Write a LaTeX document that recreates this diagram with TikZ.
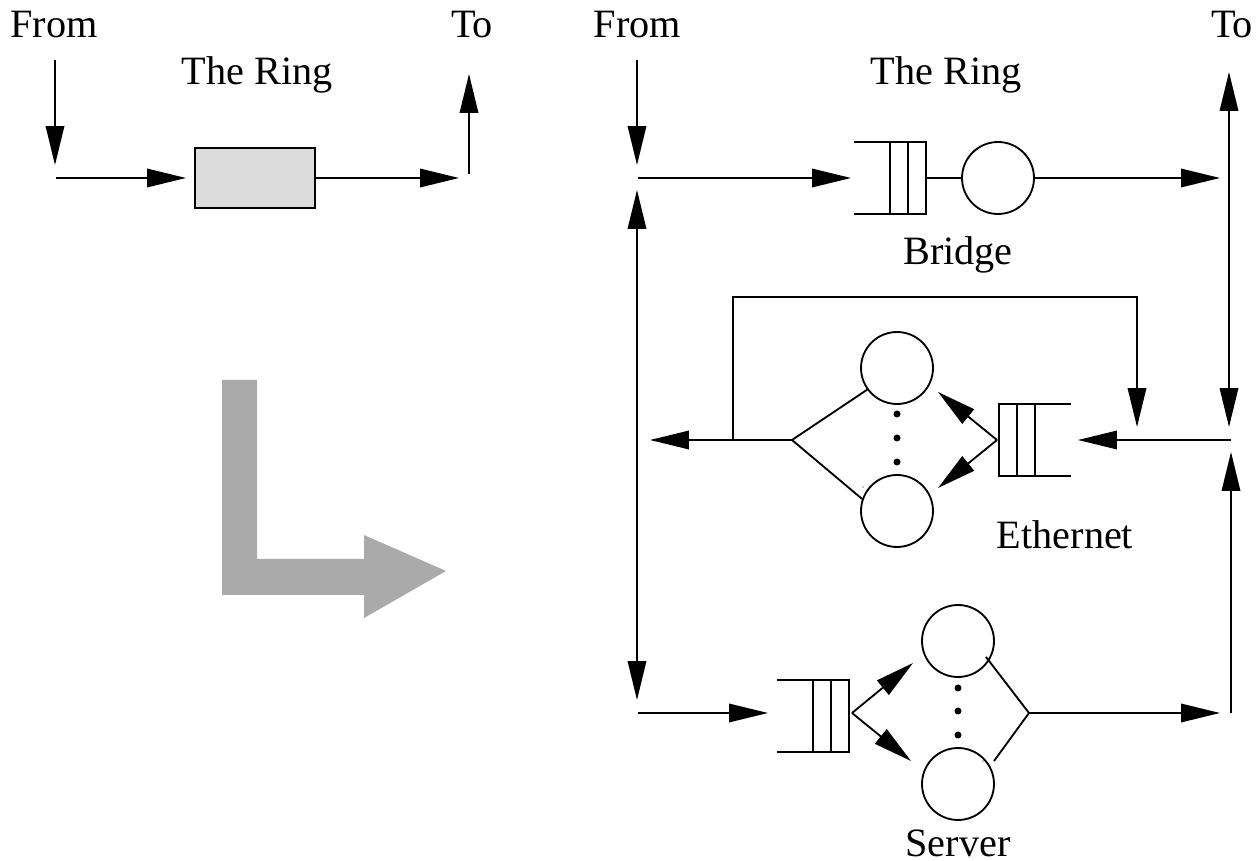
\documentclass[tikz,border=0pt]{standalone}
\usepackage{fontspec}
\setmainfont{Liberation Serif}
\usetikzlibrary{arrows.meta}
\tikzset{
  fleche/.style = {-{Triangle[length=0.78cm,width=0.37cm]}},
  dfleche/.style = {{Triangle[length=0.78cm,width=0.37cm]}-{Triangle[length=0.78cm,width=0.37cm]}},
  serveur/.style = {draw, circle, inner sep=0pt, minimum size=1.44cm},
  titre/.style = {anchor=base, inner sep=0pt, font=\fontsize{22.9}{26}\selectfont}
}
\begin{document}
\begin{tikzpicture}[x = 0.02cm, y = -0.02cm, line width = 1.05pt]
  \useasboundingbox (0,0) rectangle (1259,861);

  % textes
  \node[titre] (fromA) at (54,38) {From};
  \node[titre] (toA) at (472,38) {To};
  \node[titre] (ringA) at (257,85) {The Ring};
  \node[titre] (fromB) at (637.5,38) {From};
  \node[titre] (toB) at (1232,38) {To};
  \node[titre] (ringB) at (946,85) {The Ring};
  \node[titre] (bridge) at (958,265) {Bridge};
  \node[titre] (ethernet) at (1065,549) {Ethernet};
  \node[titre] (server) at (958,856) {Server};

  % dessiner le schema de gauche
  \node[draw, fill={rgb,255:red,220;green,220;blue,220}, minimum width=2.4cm, minimum height=1.2cm, inner sep=0pt] (ring) at (255,178) {};
  \coordinate (a1) at (55,60);
  \coordinate (a2) at (55,165);
  \coordinate (a3) at (56,178);
  \coordinate (a4) at (186,178);
  \coordinate (a5) at (459,178);
  \coordinate (a6) at (469,174);
  \coordinate (a7) at (469,74);
  \draw[fleche] (a1) -- (a2);
  \draw[fleche] (a3) -- (a4);
  \draw[fleche] (ring) -- (a5);
  \draw[fleche] (a6) -- (a7);

  % la grosse fleche grise
  \fill[fill={rgb,255:red,170;green,170;blue,170}] (222,380) -- (257,380) -- (257,559) -- (364,559) -- (364,535) -- (446,571) -- (364,618) -- (364,595) -- (222,595) -- cycle;

  % dessiner les files
  \foreach \x/\y/\s in {926/178/-1, 999/440/1, 849/716/-1}
    {
      \draw ({\x+\s*72},{\y-36}) -- (\x,{\y-36}) -- (\x,{\y+36}) -- ({\x+\s*72},{\y+36});
      \foreach \i in {1,2}
        \draw ({\x+\s*18*\i},{\y-36}) -- ({\x+\s*18*\i},{\y+36});
    }

  % dessiner les serveurs
  \node[serveur] (bridgeS) at (998,178) {};
  \node[serveur] (ethTop) at (897,368) {};
  \node[serveur] (ethBot) at (897,511) {};
  \node[serveur] (srvTop) at (958,641) {};
  \node[serveur] (srvBot) at (958,784) {};
  \foreach \x/\y in {897/414, 897/438, 897/462, 958/688, 958/711, 958/735}
    \fill (\x,\y) circle (3.5);
  \fill (863,487) circle (0.6);
  \fill (983,761) circle (0.6);

  % les points du schema de droite
  \coordinate (b1) at (637,60);
  \coordinate (b2) at (637,165);
  \coordinate (b3) at (638,178);
  \coordinate (b4) at (851,178);
  \coordinate (bq) at (926,178);
  \coordinate (b5) at (1220,178);
  \coordinate (c1) at (637,190);
  \coordinate (c2) at (637,700);
  \coordinate (c3) at (638,713);
  \coordinate (c4) at (768,713);
  \coordinate (d1) at (1229,72);
  \coordinate (d2) at (1229,427);
  \coordinate (d3) at (1231,713);
  \coordinate (d4) at (1231,452);
  \coordinate (d5) at (1231,440);
  \coordinate (d6) at (1078,440);
  \coordinate (e1) at (997,440);
  \coordinate (e2) at (938,392);
  \coordinate (e3) at (938,488);
  \coordinate (e4) at (792,440);
  \coordinate (e5) at (650,440);
  \coordinate (f1) at (733,440);
  \coordinate (f2) at (733,297);
  \coordinate (f3) at (1137,297);
  \coordinate (f4) at (1137,427);
  \coordinate (g1) at (852,713);
  \coordinate (g2) at (913,663);
  \coordinate (g3) at (911,761);
  \coordinate (g4) at (986,657);
  \coordinate (g5) at (1029,713);
  \coordinate (g6) at (994,761);
  \coordinate (g7) at (1220,713);

  % les fleches
  \draw[fleche] (b1) -- (b2);
  \draw[fleche] (b3) -- (b4);
  \draw (bq) -- (bridgeS.west);
  \draw[fleche] (bridgeS.east) -- (b5);
  \draw[dfleche] (c1) -- (c2);
  \draw[fleche] (c3) -- (c4);
  \draw[dfleche] (d1) -- (d2);
  \draw[fleche] (d3) -- (d4);
  \draw[fleche] (d5) -- (d6);
  \draw[fleche] (e1) -- (e2);
  \draw[fleche] (e1) -- (e3);
  \draw (ethTop.216) -- (e4) -- (ethBot.161);
  \draw[fleche] (e4) -- (e5);
  \draw[fleche] (f1) -- (f2) -- (f3) -- (f4);
  \draw[fleche] (g1) -- (g2);
  \draw[fleche] (g1) -- (g3);
  \draw (g4) -- (g5) -- (g6);
  \draw[fleche] (g5) -- (g7);
\end{tikzpicture}
\end{document}
